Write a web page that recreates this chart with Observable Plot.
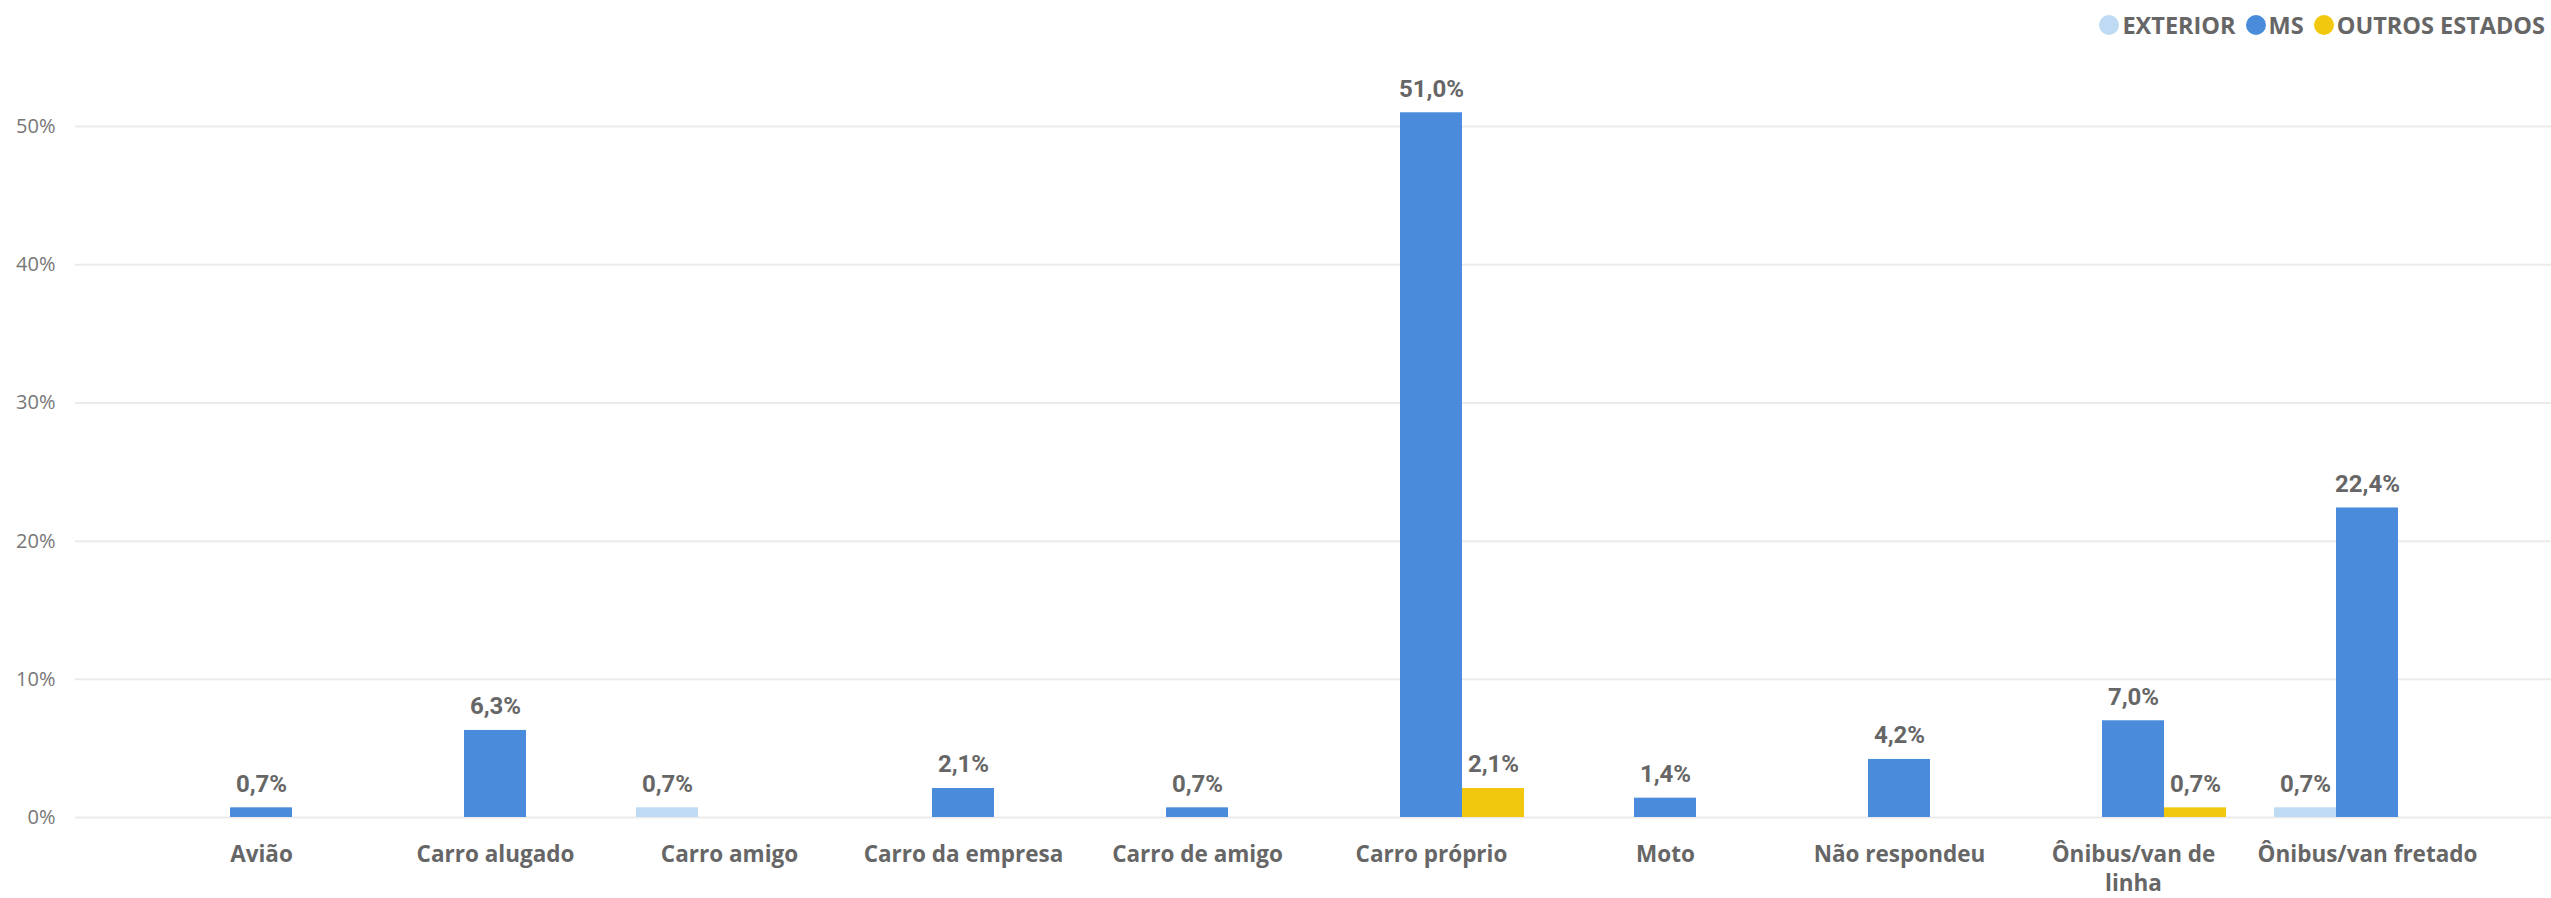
<!DOCTYPE html>
<html>
<head>
<meta charset="utf-8">
<script src="https://cdn.jsdelivr.net/npm/d3@7"></script>
<script src="https://cdn.jsdelivr.net/npm/@observablehq/plot@0.6"></script>
<style>
  html, body { margin: 0; padding: 0; background: #fff; }
  #legend {
    height: 50px; display: flex; justify-content: flex-end; align-items: center;
    padding-right: 6px; box-sizing: border-box;
    font-family: "Open Sans", sans-serif; font-weight: 700; font-size: 23.5px; color: #666;
  }
  .item { display: flex; align-items: center; margin-left: 10px; }
  .sw { width: 20px; height: 20px; border-radius: 50%; margin-right: 3px; }
</style>
</head>
<body>
<div id="legend"></div>
<div id="chart"></div>
<script>
const categories = ["Avião", "Carro alugado", "Carro amigo", "Carro da empresa", "Carro de amigo", "Carro próprio", "Moto", "Não respondeu", "Ônibus/van de linha", "Ônibus/van fretado"];
const tickLabels = ["Avião", "Carro alugado", "Carro amigo", "Carro da empresa", "Carro de amigo", "Carro próprio", "Moto", "Não respondeu", "Ônibus/van de\nlinha", "Ônibus/van fretado"];
const seriesNames = ["EXTERIOR", "MS", "OUTROS ESTADOS"];
const exterior = [null, null, 0.7, null, null, null, null, null, null, 0.7];
const ms = [0.7, 6.3, null, 2.1, 0.7, 51.0, 1.4, 4.2, 7.0, 22.4];
const outros = [null, null, null, null, null, 2.1, null, null, 0.7, null];
const colors = ["#BEDBF3", "#4A8CDB", "#F2C80F"];
const yTicks = [0, 10, 20, 30, 40, 50];

const seriesValues = [exterior, ms, outros];
const rows = [];
seriesValues.forEach((vals, si) => {
  vals.forEach((v, ci) => {
    if (v != null) rows.push({category: categories[ci], series: seriesNames[si], si, value: v});
  });
});

// legend
const legend = document.getElementById("legend");
seriesNames.forEach((s, i) => {
  const it = document.createElement("div");
  it.className = "item";
  const sw = document.createElement("div");
  sw.className = "sw";
  sw.style.background = colors[i];
  const t = document.createElement("span");
  t.textContent = s;
  it.appendChild(sw); it.appendChild(t);
  legend.appendChild(it);
});

const fmt = v => v.toFixed(1).replace(".", ",") + "%";
const labelMap = new Map(categories.map((c, i) => [c, tickLabels[i]]));
const offsets = [-62, 0, 62];

const marks = [
  Plot.ruleY(yTicks, {stroke: "#EBEBEB", strokeWidth: 2}),
  Plot.axisY(yTicks, {tickSize: 0, tickPadding: 20, label: null, tickFormat: d => d + "%", fontSize: 20, fill: "#777", fontFamily: "Open Sans"}),
  Plot.text(categories, {x: d => d, text: d => labelMap.get(d), frameAnchor: "bottom", lineAnchor: "top", dy: 25, lineHeight: 1.25, fontSize: 22.5, fontWeight: 700, fill: "#666", fontFamily: "Open Sans"})
];
seriesNames.forEach((s, si) => {
  const data = rows.filter(r => r.si === si);
  marks.push(Plot.barY(data, {x: "category", y: "value", fill: colors[si], dx: offsets[si]}));
  marks.push(Plot.text(data, {x: "category", y: "value", text: d => fmt(d.value), dx: offsets[si], dy: -16, lineAnchor: "bottom", fontSize: 24, fontWeight: 700, fill: "#666", fontFamily: "Roboto"}));
});

const chart = Plot.plot({
  width: 2551,
  height: 848,
  marginLeft: 75,
  marginRight: 0,
  marginTop: 7,
  marginBottom: 81,
  style: {background: "#fff", overflow: "visible"},
  x: {domain: categories, range: [144, 2484], paddingInner: 0.735, paddingOuter: 0.3675, axis: null},
  y: {domain: [0, 55], axis: null},
  marks
});
document.getElementById("chart").appendChild(chart);
</script>
</body>
</html>
